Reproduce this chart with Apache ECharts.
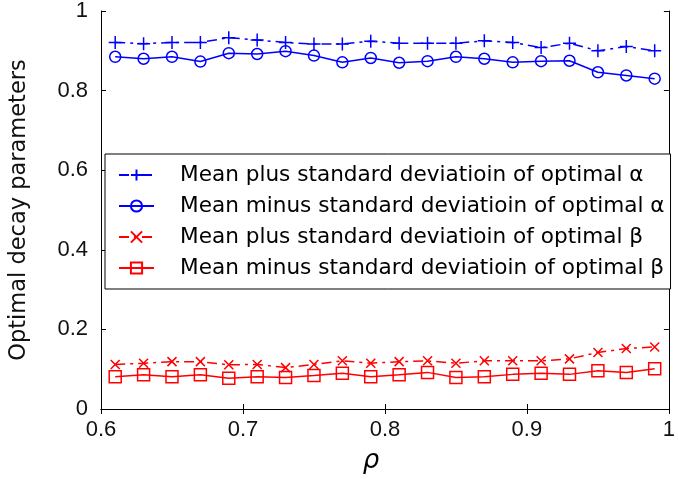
<!DOCTYPE html>
<html>
<head>
<meta charset="utf-8">
<script src="https://cdn.jsdelivr.net/npm/echarts@6/dist/echarts.min.js"></script>
<style>
html,body{margin:0;padding:0;background:#fff;}
#chart{width:678px;height:479px;}
</style>
</head>
<body>
<div id="chart"></div>
<script>
var rho = [0.61,0.63,0.65,0.67,0.69,0.71,0.73,0.75,0.77,0.79,0.81,0.83,0.85,0.87,0.89,0.91,0.93,0.95,0.97,0.99];
var alphaPlus  = [0.921,0.918,0.921,0.921,0.933,0.927,0.921,0.917,0.917,0.924,0.919,0.919,0.919,0.925,0.921,0.908,0.919,0.900,0.911,0.900];
var alphaMinus = [0.885,0.880,0.885,0.873,0.894,0.892,0.899,0.888,0.871,0.882,0.870,0.874,0.885,0.880,0.871,0.874,0.875,0.846,0.838,0.830];
var betaPlus   = [0.112,0.115,0.119,0.119,0.111,0.112,0.104,0.112,0.121,0.115,0.119,0.121,0.115,0.121,0.121,0.121,0.126,0.142,0.152,0.156];
var betaMinus  = [0.081,0.086,0.081,0.086,0.077,0.081,0.079,0.084,0.090,0.081,0.086,0.092,0.079,0.081,0.087,0.090,0.087,0.096,0.092,0.101];
var seriesNames = [
  'Mean plus standard deviatioin of optimal \u03b1',
  'Mean minus standard deviatioin of optimal \u03b1',
  'Mean plus standard deviatioin of optimal \u03b2',
  'Mean minus standard deviatioin of optimal \u03b2'
];
var xTicks = {min: 0.6, max: 1, interval: 0.1};
var yTicks = {min: 0, max: 1, interval: 0.2};

function pairs(ys){ return rho.map(function(x,i){ return [x, ys[i]]; }); }

var BLUE = '#0000ff', RED = '#ff0000';
var plusSym = 'path://M0,5L10,5M5,0L5,10';
var xSym = 'path://M0,0L10,10M10,0L0,10';

function mkSeries(name, ys, color, symbol, size, dashed){
  return {
    name: name, type: 'line', data: pairs(ys),
    symbol: symbol, symbolSize: size, showAllSymbol: true,
    lineStyle: {color: color, width: 1.5, type: dashed ? [10,5,3,5] : 'solid'},
    itemStyle: {color: 'rgba(0,0,0,0)', borderColor: color, borderWidth: 1.5},
    emphasis: {disabled: true},
    animation: false
  };
}

var chart = echarts.init(document.getElementById('chart'), null, {renderer: 'canvas'});
var tickFont = {fontFamily: 'Liberation Sans', fontSize: 22, color: '#111'};
chart.setOption({
  animation: false,
  backgroundColor: '#fff',
  grid: {left: 97, right: 2, top: 10, bottom: 68},
  legend: {
    orient: 'vertical', left: 105, top: 154,
    data: seriesNames,
    backgroundColor: '#fff', borderColor: '#000', borderWidth: 1, borderRadius: 0,
    padding: [10, 6, 10, 13],
    itemWidth: 35, itemHeight: 14, itemGap: 9,
    textStyle: {fontFamily: 'DejaVu Sans', fontSize: 21.6, lineHeight: 21, color: '#000', padding: [0,0,0,21]},
    selectedMode: false
  },
  xAxis: [{
    type: 'value', min: xTicks.min, max: xTicks.max, interval: xTicks.interval,
    name: '\u03c1', nameLocation: 'middle', nameGap: 39,
    nameTextStyle: {fontFamily: 'DejaVu Sans', fontStyle: 'italic', fontSize: 26, color: '#000', padding: [0, 28, 0, 0]},
    axisLine: {lineStyle: {color: '#000', width: 1}},
    axisTick: {inside: true, length: 5, lineStyle: {color: '#000'}},
    axisLabel: Object.assign({margin: 10}, tickFont),
    splitLine: {show: false}
  }, {
    type: 'value', position: 'top', min: xTicks.min, max: xTicks.max, interval: xTicks.interval,
    axisLine: {lineStyle: {color: '#000', width: 1}},
    axisTick: {inside: true, length: 5, lineStyle: {color: '#000'}},
    axisLabel: {show: false}, splitLine: {show: false}
  }],
  yAxis: [{
    type: 'value', min: yTicks.min, max: yTicks.max, interval: yTicks.interval,
    name: 'Optimal decay parameters', nameLocation: 'middle', nameGap: 70,
    nameTextStyle: {fontFamily: 'DejaVu Sans', fontSize: 22.5, color: '#111'},
    axisLine: {lineStyle: {color: '#000', width: 1}},
    axisTick: {inside: true, length: 5, lineStyle: {color: '#000'}},
    axisLabel: Object.assign({margin: 13}, tickFont),
    splitLine: {show: false}
  }, {
    type: 'value', position: 'right', min: yTicks.min, max: yTicks.max, interval: yTicks.interval,
    axisLine: {lineStyle: {color: '#000', width: 1}},
    axisTick: {inside: true, length: 5, lineStyle: {color: '#000'}},
    axisLabel: {show: false}, splitLine: {show: false}
  }],
  series: [
    mkSeries(seriesNames[0], alphaPlus, BLUE, plusSym, 13, true),
    mkSeries(seriesNames[1], alphaMinus, BLUE, 'circle', 11, false),
    mkSeries(seriesNames[2], betaPlus, RED, xSym, 9, true),
    mkSeries(seriesNames[3], betaMinus, RED, 'rect', 12, false)
  ]
});
</script>
</body>
</html>
